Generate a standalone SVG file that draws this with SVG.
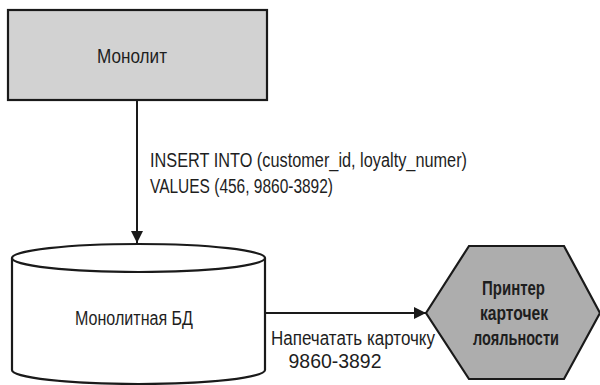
<svg xmlns="http://www.w3.org/2000/svg" width="600" height="385" viewBox="0 0 600 385">
  <defs>
    <marker id="arrow" viewBox="0 0 12 12" refX="12" refY="6" markerWidth="12" markerHeight="12" markerUnits="userSpaceOnUse" orient="auto">
      <path d="M0,0 L12,6 L0,12 Z" fill="#1a1a1a"/>
    </marker>
    <style>
      .shape { stroke: #1a1a1a; stroke-width: 2.2; }
      .edge { stroke: #1a1a1a; stroke-width: 2; fill: none; }
      text { font-family: "Liberation Sans", "DejaVu Sans", sans-serif; font-size: 20px; fill: #1e1e1e; }
      .bold { font-weight: bold; }
    </style>
  </defs>
  <rect width="600" height="385" fill="#ffffff"/>

  <g id="monolith">
    <rect class="shape" x="8" y="10" width="259" height="90" fill="#d2d2d2"/>
    <text x="132" y="63" text-anchor="middle" textLength="70" lengthAdjust="spacingAndGlyphs">Монолит</text>
  </g>

  <g id="monolith-db">
    <path class="shape" d="M12,258 L12,370 A126.5,14 0 0 0 265,370 L265,258" fill="#ffffff"/>
    <ellipse class="shape" cx="138.5" cy="258" rx="126.5" ry="14" fill="#ffffff"/>
    <text x="75" y="325" textLength="118" lengthAdjust="spacingAndGlyphs">Монолитная БД</text>
  </g>

  <g id="card-printer">
    <polygon class="shape" points="426,313 469,246 564,246 600,313 564,379 469,379" fill="#adadad"/>
    <text class="bold" x="513.5" y="295" text-anchor="middle" textLength="63" lengthAdjust="spacingAndGlyphs">Принтер</text>
    <text class="bold" x="514" y="320" text-anchor="middle" textLength="68" lengthAdjust="spacingAndGlyphs">карточек</text>
    <text class="bold" x="516" y="345" text-anchor="middle" textLength="86" lengthAdjust="spacingAndGlyphs">лояльности</text>
  </g>

  <g id="connectors">
    <line class="edge" x1="137" y1="100" x2="137" y2="243" marker-end="url(#arrow)"/>
    <text x="150" y="167" textLength="317" lengthAdjust="spacingAndGlyphs">INSERT INTO (customer_id, loyalty_numer)</text>
    <text x="150" y="193" textLength="183" lengthAdjust="spacingAndGlyphs">VALUES (456, 9860-3892)</text>

    <line class="edge" x1="265" y1="313" x2="426" y2="313" marker-end="url(#arrow)"/>
    <text x="271" y="345" textLength="164" lengthAdjust="spacingAndGlyphs">Напечатать карточку</text>
    <text x="335" y="368" text-anchor="middle" textLength="93" lengthAdjust="spacingAndGlyphs">9860-3892</text>
  </g>
</svg>
